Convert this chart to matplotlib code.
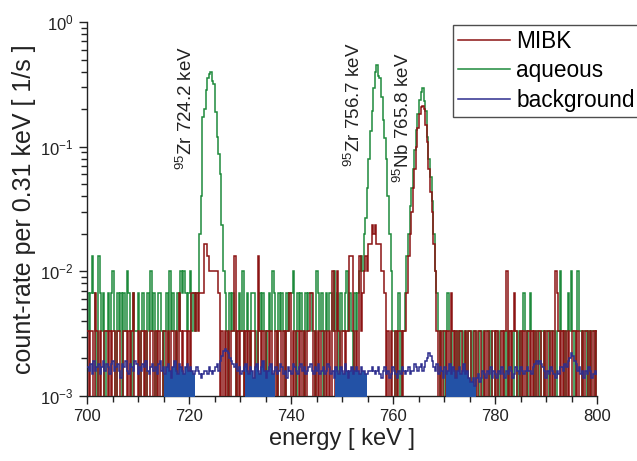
import matplotlib
matplotlib.use("Agg")
import matplotlib.pyplot as plt
import numpy as np
from matplotlib.ticker import MultipleLocator, LogLocator, NullFormatter

plt.rcParams["font.family"] = ["Liberation Sans", "DejaVu Sans"]
plt.rcParams["mathtext.fontset"] = "custom"
plt.rcParams["mathtext.rm"] = "Liberation Sans"
plt.rcParams["mathtext.it"] = "Liberation Sans:italic"
plt.rcParams["mathtext.default"] = "regular"

# spectrum settings
e_start = 700.0
bin_width = 0.31  # keV per channel
live_time = 300.0  # s

# counts per channel, aqueous phase
aqueous_counts = [
    2, 1, 2, 4, 2, 1, 0, 4, 2, 1, 2, 0, 1, 2, 1, 2, 3, 1, 0, 2,
    1, 2, 0, 2, 1, 3, 2, 1, 0, 2, 1, 1, 2, 0, 1, 2, 1, 0, 2, 1,
    3, 1, 2, 0, 1, 2, 2, 1, 0, 1, 2, 0, 3, 1, 2, 1, 0, 2, 1, 3,
    2, 3, 2, 1, 2, 3, 1, 2, 1, 2,
    2, 6, 12, 52, 60, 85, 106, 115, 120, 101, 95, 57, 36, 26, 18, 7, 3,
    2, 1, 0, 2, 1, 2, 1, 0, 1, 2, 1, 3, 0, 1, 2, 1, 0, 2, 2, 1,
    0, 1, 2, 1, 2, 1, 0, 1, 2, 1, 3, 2, 1, 0, 2, 1, 2, 1, 0, 2,
    1, 2, 2, 3, 1, 0, 2, 1, 2, 1, 0, 2, 1, 2, 2, 1, 1, 0, 3, 2,
    1, 2, 0, 1, 2, 1, 2, 2, 1, 3, 1, 2, 0, 2, 1, 1, 2, 3, 1, 2,
    1, 0, 2, 1, 2, 3, 4,
    3, 6, 8, 14, 24, 40, 58, 88, 120, 135, 110, 106, 75, 49, 35, 24, 12, 6, 3, 1,
    1, 0, 1, 2, 0, 1, 1,
    2, 4, 6, 10, 14, 20, 28, 41, 55, 71, 82, 88, 70, 58, 36, 24, 17, 11, 6, 3, 2,
    1, 0, 1, 1, 0, 1, 2, 1, 0, 1, 1, 0, 1, 0, 1, 1, 0, 1, 0, 1,
    1, 0, 1, 1, 0, 0, 1, 1, 0, 1, 1, 1, 0, 1, 0, 0, 1, 1, 0, 1,
    1, 1, 0, 1, 0, 1, 1, 0, 1, 1, 0, 1, 0, 1, 2, 1, 0, 1, 2, 1,
    1, 0, 1, 1, 0, 1, 1, 0, 1, 1, 0, 1, 1, 1, 0, 1, 1, 3, 1, 1,
    0, 1, 2, 1, 3, 1, 0, 1, 3, 1, 1, 0, 1, 1, 0, 1, 0, 1, 1, 0, 1,
]

# counts per channel, MIBK phase
mibk_counts = [
    1, 0, 1, 1, 0, 2, 1, 0, 1, 0, 0, 1, 1, 0, 1, 0, 1, 1, 0, 1,
    1, 0, 0, 1, 1, 0, 1, 0, 1, 2, 0, 0, 1, 0, 1, 1, 0, 1, 0, 0,
    1, 1, 0, 1, 0, 1, 0, 0, 1, 1, 0, 1, 0, 1, 1, 0, 1, 0, 2, 1,
    0, 1, 1, 0, 1, 0, 2, 2, 1, 2,
    1, 2, 2, 2, 5, 5, 4, 3, 3, 3, 3, 3, 3, 2, 0, 1, 0,
    1, 0, 1, 0, 1, 1, 4, 0, 1, 0, 1, 1, 0, 1, 0, 1, 0, 1, 1, 0,
    0, 4, 1, 0, 1, 0, 1, 1, 0, 1, 0, 0, 1, 0, 1, 1, 0, 1, 0, 1,
    1, 2, 0, 1, 0, 1, 1, 0, 1, 0, 1, 0, 1, 1, 2, 2, 0, 1, 0, 1,
    0, 1, 1, 0, 1, 0, 1, 0, 3, 1, 0, 3, 1, 0, 1, 1, 0, 1, 1, 4,
    4, 1, 0, 1, 0, 4, 1,
    2, 3, 4, 3, 5, 5, 7, 6, 7, 5, 5, 5, 3, 3, 2, 0, 1, 0, 1, 0,
    0, 1, 0, 1, 1, 0, 1,
    1, 2, 4, 6, 9, 14, 20, 30, 42, 55, 62, 64, 60, 45, 33, 20, 13, 9, 5, 3, 1,
    0, 1, 0, 1, 1, 0, 1, 0, 2, 1, 0, 1, 0, 1, 1, 0, 0, 1, 0, 1,
    1, 0, 0, 1, 0, 1, 1, 0, 0, 1, 0, 1, 0, 0, 1, 1, 0, 1, 0, 0,
    1, 0, 1, 3, 0, 1, 0, 1, 2, 1, 0, 0, 1, 0, 1, 0, 1, 1, 0, 1,
    0, 1, 0, 1, 1, 0, 0, 1, 0, 1, 1, 0, 1, 0, 3, 2, 1, 0, 1, 0,
    1, 0, 1, 0, 0, 1, 1, 0, 1, 0, 0, 1, 0, 1, 1, 0, 1, 0, 1, 0, 1,
]

# background count-rate per channel, in 1e-3 /s
background_rate = [
    1.7, 1.6, 1.8, 1.5, 1.9, 1.6, 1.7, 1.8, 1.5, 1.7, 1.9, 1.6, 1.8, 1.7, 1.5, 1.8, 1.9, 1.6, 1.7, 1.8,
    1.6, 1.4, 1.8, 1.7, 1.9, 1.6, 1.5, 1.8, 1.7, 1.6, 1.9, 1.8, 1.5, 1.7, 1.6, 1.8, 1.7, 1.9, 1.6, 1.5,
    1.7, 1.8, 1.6, 1.7, 1.5, 1.8, 1.9, 1.6, 1.7, 1.5, 1.7, 1.8, 1.6, 1.4, 1.7, 1.9, 1.6, 1.5, 1.8, 1.7,
    1.6, 1.5, 1.7, 1.8, 1.6, 1.7, 1.6, 1.5, 1.6, 1.7, 1.6, 1.5, 1.4, 1.5, 1.6, 1.6, 1.5, 1.7, 1.6, 1.5,
    1.6, 1.7, 1.8, 1.6, 1.9, 2.1, 2.3, 2.4, 2.3, 2.2, 2.0, 1.9, 1.8, 1.7, 1.8, 1.6, 1.7, 1.5, 1.6, 1.7,
    1.8, 1.6, 1.5, 1.7, 1.6, 1.4, 1.7, 1.8, 1.6, 1.5, 1.7, 1.9, 1.6, 1.4, 1.6, 1.7, 1.8, 1.5, 1.6, 1.7,
    1.5, 1.6, 1.8, 1.7, 1.5, 1.6, 1.4, 1.7, 1.6, 1.5, 1.8, 1.7, 1.6, 1.5, 1.7, 1.8, 1.6, 1.7, 1.5, 1.6,
    1.7, 1.8, 1.6, 1.5, 1.7, 1.6, 1.8, 1.5, 1.6, 1.7, 1.5, 1.6, 1.8, 1.7, 1.5, 1.6, 1.4, 1.7, 1.6, 1.5,
    1.7, 1.6, 1.5, 1.8, 1.6, 1.4, 1.6, 1.7, 1.5, 1.6, 1.7, 1.6, 1.5, 1.7, 1.6, 1.6, 1.5, 1.5, 1.6, 1.6,
    1.7, 1.6, 1.5, 1.6, 1.7, 1.5, 1.4, 1.6, 1.7, 1.5, 1.6, 1.4, 1.5, 1.7, 1.6, 1.5, 1.4, 1.6, 1.5, 1.7,
    1.6, 1.5, 1.6, 1.7, 1.5, 1.6, 1.6, 1.8, 1.7, 1.6, 1.7, 1.8, 1.6, 1.7, 1.9, 2.0, 2.2, 2.1, 1.9, 1.7,
    1.6, 1.8, 1.5, 1.7, 1.6, 1.4, 1.7, 1.5, 1.6, 1.8, 1.5, 1.7, 1.6, 1.4, 1.6, 1.7, 1.5, 1.6, 1.8, 1.5,
    1.6, 1.4, 1.3, 1.3, 1.4, 1.2, 1.4, 1.5, 1.3, 1.4, 1.6, 1.5, 1.4, 1.6, 1.5, 1.7, 1.4, 1.6, 1.5, 1.4,
    1.6, 1.5, 1.7, 1.5, 1.4, 1.6, 1.5, 1.7, 1.6, 1.4, 1.5, 1.7, 1.6, 1.5, 1.7, 1.6, 1.5, 1.6, 1.7, 1.6,
    1.6, 1.5, 1.7, 1.8, 1.9, 1.8, 1.9, 1.8, 1.7, 1.6, 1.4, 1.6, 1.5, 1.7, 1.6, 1.5, 1.4, 1.6, 1.5, 1.7,
    1.7, 1.6, 1.8, 1.7, 1.9, 2.0, 2.2, 2.1, 1.9, 1.8, 1.6, 1.7, 1.5, 1.6, 1.4, 1.6, 1.5, 1.7, 1.6, 1.4,
    1.5, 1.6, 1.5,
]

# energy windows used for the background estimate (keV)
bg_windows = [(714.9, 721.0), (730.8, 736.7), (748.6, 754.7), (770.2, 776.0)]

# line labels: (text, energy of label centre, rate at label bottom)
peak_labels = [
    ("$^{95}$Zr 724.2 keV", 719.4, 0.065),
    ("$^{95}$Zr 756.7 keV", 752.4, 0.069),
    ("$^{95}$Nb 765.8 keV", 762.0, 0.051),
]


def channel_edges(n):
    return e_start + bin_width * np.arange(n + 1)


def to_rate(counts):
    c = np.asarray(counts, dtype=float)
    # empty channels drop below the axis on log scale
    return np.where(c > 0, c / live_time, 1e-5)


c_mibk = "#8c1414"
c_aq = "#1e8a3c"
c_bg = "#2e2e8e"
c_fill = "#2352a6"

fig = plt.figure(figsize=(6.37, 4.61), dpi=100)
ax = fig.add_axes([87 / 637, 1 - 396 / 461, 510 / 637, 374 / 461])

aq_rate = to_rate(aqueous_counts)
mibk_rate = to_rate(mibk_counts)
bg = np.asarray(background_rate) * 1e-3

ax.stairs(aq_rate, channel_edges(len(aq_rate)), baseline=None, color=c_aq, lw=1.1, zorder=2)
ax.stairs(mibk_rate, channel_edges(len(mibk_rate)), baseline=None, color=c_mibk, lw=1.1, zorder=3)

# shaded background windows
bg_edges = channel_edges(len(bg))
for lo, hi in bg_windows:
    sel = (bg_edges[:-1] >= lo) & (bg_edges[:-1] < hi)
    xs = np.append(bg_edges[:-1][sel], bg_edges[1:][sel][-1])
    ys = np.append(bg[sel], bg[sel][-1])
    ax.fill_between(xs, 1e-4, ys, step="post", color=c_fill, lw=0, zorder=4)

ax.stairs(bg, bg_edges, baseline=None, color=c_bg, lw=1.1, zorder=5)

# legend proxies
ax.plot([], [], color=c_mibk, lw=1.1, label="MIBK")
ax.plot([], [], color=c_aq, lw=1.1, label="aqueous")
ax.plot([], [], color=c_bg, lw=1.1, label="background")

for txt, xe, yr in peak_labels:
    ax.text(xe, yr, txt, rotation=90, ha="center", va="bottom", fontsize=13.5, color="#222222")

ax.set_yscale("log")
ax.set_xlim(700, 800)
ax.set_ylim(1e-3, 1)

ax.xaxis.set_major_locator(MultipleLocator(20))
ax.xaxis.set_minor_locator(MultipleLocator(5))
ax.yaxis.set_minor_locator(LogLocator(base=10, subs=np.arange(2, 10)))
ax.yaxis.set_minor_formatter(NullFormatter())

ax.tick_params(which="both", direction="out", width=1, labelsize=12, colors="#222222")
ax.tick_params(which="major", length=6)
ax.tick_params(which="minor", length=4)

for s in ["top", "right"]:
    ax.spines[s].set_visible(False)
for s in ["left", "bottom"]:
    ax.spines[s].set_linewidth(1)
    ax.spines[s].set_color("#222222")

ax.set_xlabel("energy [ keV ]", fontsize=17, color="#222222")
ax.set_ylabel("count-rate per 0.31 keV [ 1/s ]", fontsize=18, color="#222222")
ax.xaxis.set_label_coords(0.5, -0.086)
ax.yaxis.set_label_coords(-0.1, 0.5)

leg = fig.legend(loc="upper left", bbox_to_anchor=(453 / 637, 1 - 25 / 461),
                 fontsize=16.3, handlelength=2.3, handletextpad=0.3,
                 borderpad=0.2, labelspacing=0.3, borderaxespad=0,
                 frameon=True, fancybox=False)
leg.get_frame().set_edgecolor("#222222")
leg.get_frame().set_linewidth(1)

fig.savefig("out.png", dpi=100)
